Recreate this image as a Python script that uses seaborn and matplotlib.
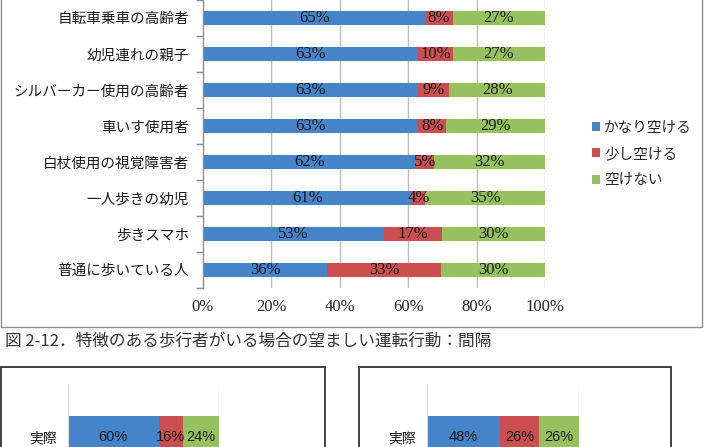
import matplotlib
matplotlib.use('Agg')
import matplotlib.pyplot as plt
from matplotlib.patches import Rectangle, Patch
from matplotlib.ticker import FixedLocator
import numpy as np
import pandas as pd
import seaborn as sns

sns.set_style('white')
plt.rcParams['font.family'] = ['Noto Sans CJK JP', 'DejaVu Sans']

# 上段：特徴のある歩行者
categories = ['自転車乗車の高齢者', '幼児連れの親子', 'シルバーカー使用の高齢者', '車いす使用者',
              '白杖使用の視覚障害者', '一人歩きの幼児', '歩きスマホ', '普通に歩いている人']
kanari = [65.0, 63.0, 63.0, 63.0, 62.4, 61.0, 53.0, 36.3]
sukoshi = [8.0, 10.0, 9.0, 8.0, 5.2, 4.0, 17.0, 33.3]
akenai = [27.0, 27.0, 28.0, 29.0, 32.4, 35.0, 30.0, 30.4]
series_names = ['かなり空ける', '少し空ける', '空けない']
xticks = [0, 20, 40, 60, 80, 100]

# 下段：実際（左・右）
sub_cat = ['実際']
left_vals = [60, 16, 24]
right_vals = [48, 26, 26]

caption = '図 2-12．特徴のある歩行者がいる場合の望ましい運転行動：間隔'

colors = ['#4584C8', '#CB4F50', '#95C15F']
W, H = 708, 447


def stacked(ax, cats, cols, width):
    df = pd.DataFrame({'cat': cats})
    cum = np.zeros(len(cats))
    cums = []
    for c in cols:
        cum = cum + np.array(c, dtype=float)
        cums.append(cum.copy())
    # 後ろから描いて積み上げに見せる
    for i in reversed(range(len(cols))):
        df['v'] = cums[i]
        sns.barplot(data=df, y='cat', x='v', color=colors[i], saturation=1,
                    width=width, linewidth=0, ax=ax, orient='h')
    return cums


fig = plt.figure(figsize=(W / 100, H / 100), dpi=100)

# ---- 上段グラフ ----
ax = fig.add_axes([203 / W, 1 - 288 / H, 342 / W, 288 / H])
cums = stacked(ax, categories, [kanari, sukoshi, akenai], 0.37)
ax.set_xlim(0, 100)
ax.set_ylim(7.5, -0.5)
ax.set_xlabel('')
ax.set_ylabel('')
for x in xticks[1:]:
    ax.axvline(x, color='#BDBDBD', lw=1, zorder=0)
ax.set_xticks(xticks)
ax.set_xticklabels([f'{x}%' for x in xticks], family='Liberation Serif', fontsize=12, color='#222222')
ax.tick_params(axis='x', length=0, pad=8)
ax.set_yticks(range(len(categories)))
ax.set_yticklabels(categories, fontsize=10.5, color='#1a1a1a')
ax.tick_params(axis='y', which='major', length=0, pad=10)
ax.yaxis.set_minor_locator(FixedLocator(np.arange(-0.5, 8, 1)))
ax.tick_params(axis='y', which='minor', left=True, length=5, color='#8c8c8c', width=1)
for s in ['top', 'right', 'bottom']:
    ax.spines[s].set_visible(False)
ax.spines['left'].set_color('#8c8c8c')
ax.spines['left'].set_linewidth(1)

series = [kanari, sukoshi, akenai]
for j in range(len(categories)):
    start = 0
    for i, vals in enumerate(series):
        v = vals[j]
        ax.text(start + v / 2, j, f'{v:.0f}%', ha='center', va='center',
                family='Liberation Serif', fontsize=12, color='#1a1a1a')
        start += v

handles = [Patch(facecolor=colors[i], edgecolor='none', label=series_names[i]) for i in range(3)]
fig.legend(handles=handles, loc='center left', bbox_to_anchor=(586 / W, 1 - 154 / H),
           frameon=False, fontsize=10.5, handlelength=0.55, handleheight=0.55,
           handletextpad=0.3, labelspacing=0.85, borderaxespad=0)

fig.add_artist(Rectangle((1 / W, 1 - 327 / H), 701 / W, 0.9, transform=fig.transFigure,
                         fill=False, ec='#8c8c8c', lw=1))

fig.text(5 / W, 1 - 342 / H, caption, ha='left', va='center', fontsize=12, color='#333333')

# ---- 下段グラフ（上部のみ） ----
for (bx0, bx1, axl, axw, vals) in [(1, 325, 68, 151, left_vals), (359, 671, 427, 152, right_vals)]:
    fig.add_artist(Rectangle((bx0 / W, -0.2), (bx1 - bx0) / W, 0.2 + (H - 367) / H,
                             transform=fig.transFigure, fill=False, ec='#333333', lw=1.3))
    sax = fig.add_axes([axl / W, (H - 490) / H, axw / W, 106 / H])
    stacked(sax, sub_cat, [[v] for v in vals], 0.4)
    sax.set_xlim(0, 100)
    sax.set_ylim(0.5, -0.5)
    sax.set_xlabel('')
    sax.set_ylabel('')
    sax.set_xticks([])
    sax.tick_params(axis='y', length=0, pad=8, labelsize=10, labelcolor='#1a1a1a')
    for s in ['top', 'right', 'bottom']:
        sax.spines[s].set_visible(False)
    sax.spines['left'].set_color('#D9D9D9')
    sax.axvline(100, color='#D9D9D9', lw=1, zorder=0)
    start = 0
    for v in vals:
        sax.text(start + v / 2, 0, f'{v}%', ha='center', va='center',
                 family='Liberation Sans', fontsize=10.5, color='#1a1a1a')
        start += v

fig.savefig('out.png', dpi=100)
